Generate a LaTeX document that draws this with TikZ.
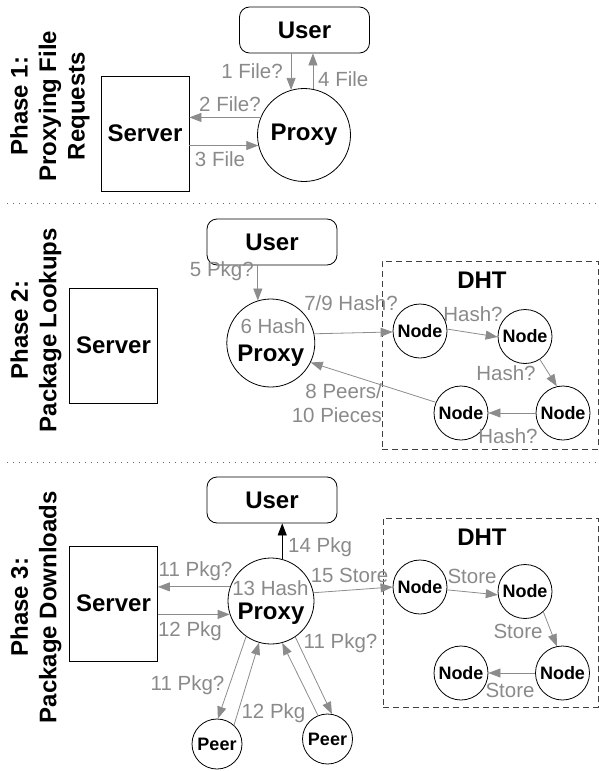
\documentclass[tikz,border=0pt]{standalone}
\usepackage{fontspec}
\setmainfont{Liberation Sans}
\usetikzlibrary{arrows.meta,calc}
\definecolor{lblgray}{HTML}{8A8A8A}
\definecolor{arrgray}{HTML}{8C8C8C}
\tikzset{
  box/.style={draw, line width=0.8pt, inner sep=0pt, font=\fontsize{24}{28}\selectfont\bfseries},
  userbox/.style={box, rounded corners=10pt, minimum width=130pt, minimum height=46pt},
  serverbox/.style={box, minimum width=88pt, minimum height=115pt},
  proxycirc/.style={draw, circle, line width=0.8pt, inner sep=0pt, font=\fontsize{24}{28}\selectfont\bfseries},
  bigtxt/.style={inner sep=0pt, font=\fontsize{24}{28}\selectfont\bfseries},
  dhtnode/.style={draw, circle, line width=0.8pt, inner sep=0pt, minimum size=54pt, font=\fontsize{18}{20}\selectfont\bfseries},
  peernode/.style={draw, circle, line width=0.8pt, inner sep=0pt, minimum size=50pt, font=\fontsize{18}{20}\selectfont\bfseries},
  lbl/.style={text=lblgray, inner sep=0pt, font=\fontsize{20.5}{24.5}\selectfont},
  arr/.style={draw=arrgray, line width=0.8pt, -{Triangle[length=12pt,width=9pt]}},
  blackarr/.style={draw=black, line width=0.8pt, -{Triangle[length=12pt,width=9pt]}},
  dhtbox/.style={draw=black!75, dash pattern=on 6pt off 4pt, line width=0.8pt, inner sep=0pt},
  sepline/.style={draw=black!60, line width=1pt, dash pattern=on 1pt off 5pt},
  phaselbl/.style={rotate=90, align=center, inner sep=0pt, font=\fontsize{24}{28.5}\selectfont\bfseries}
}
\begin{document}
\begin{tikzpicture}[x=1pt,y=-1pt]
\useasboundingbox (0,0) rectangle (599,771);

% separators
\draw[sepline] (7,203) -- (597,203);
\draw[sepline] (7,462) -- (597,462);

% ---------------- Phase 1 ----------------
\node[phaselbl] (ph1) at (50,106) {Phase 1:\\Proxying File\\Requests};
\node[userbox] (user1) at (304.5,30) {User};
\node[serverbox] (server1) at (145,133.5) {Server};
\node[proxycirc, minimum size=93pt] (proxy1) at (304,135) {Proxy};

\draw[arr] (user1.south -| proxy1.106) -- (proxy1.106);
\draw[arr] (proxy1.79) -- (proxy1.79 |- user1.south);
\draw[arr] (proxy1.158) -- (proxy1.158 -| server1.east);
\draw[arr] (server1.east |- proxy1.193) -- (proxy1.193);

\node[lbl, anchor=east] (l1) at (283,71) {1 File?};
\node[lbl, anchor=west] (l4) at (318,79) {4 File};
\node[lbl] (l2) at (230,104) {2 File?};
\node[lbl] (l3) at (220,159.5) {3 File};

% ---------------- Phase 2 ----------------
\node[phaselbl] (ph2) at (36,330) {Phase 2:\\Package Lookups};
\node[dhtbox, minimum width=216pt, minimum height=188pt] (dht2) at (490,355) {};
\node[bigtxt] (dht2l) at (482,280) {DHT};
\node[userbox] (user2) at (272,242) {User};
\node[serverbox] (server2) at (113.5,345.5) {Server};
\node[proxycirc, minimum size=88pt] (proxy2) at (270.8,343) {};
\node[bigtxt] (proxy2t) at (270.8,355.5) {Proxy};
\node[lbl] (hash6) at (273,326) {6 Hash};
\node[dhtnode] (n21) at (420,331) {Node};
\node[dhtnode] (n22) at (525,336.5) {Node};
\node[dhtnode] (n23) at (563,413) {Node};
\node[dhtnode] (n24) at (461,413) {Node};

\draw[arr] (user2.south -| proxy2.107) -- (proxy2.107);
\draw[arr] (proxy2.12) -- (n21.182);
\draw[arr] (n21.4) -- (n22.181);
\draw[arr] (n22.303) -- (n23.103);
\draw[arr] (n23.west) -- (n24.east);
\draw[arr] (n24.157) -- (proxy2.334);

\node[lbl, anchor=east] (l5) at (254,271.5) {5 Pkg?};
\node[lbl] (l79) at (351,303) {7/9 Hash?};
\node[lbl] (lh1) at (473,314.5) {Hash?};
\node[lbl] (lh2) at (506,373) {Hash?};
\node[lbl] (lh3) at (508,436) {Hash?};
\node[lbl, align=right, anchor=north east] (l810) at (382,383) {8 Peers/\\10 Pieces};

% ---------------- Phase 3 ----------------
\node[phaselbl] (ph3) at (36,607) {Phase 3:\\Package Downloads};
\node[dhtbox, minimum width=215pt, minimum height=189pt] (dht3) at (490.5,612.5) {};
\node[bigtxt] (dht3l) at (482,537) {DHT};
\node[userbox] (user3) at (272,500) {User};
\node[serverbox] (server3) at (113.5,603.5) {Server};
\node[proxycirc, minimum size=86pt] (proxy3) at (271,601) {};
\node[bigtxt] (proxy3t) at (271,613.5) {Proxy};
\node[lbl] (hash13) at (270.5,588.5) {13 Hash};
\node[dhtnode] (n31) at (420,587) {Node};
\node[dhtnode] (n32) at (525,591.5) {Node};
\node[dhtnode] (n33) at (562.5,673) {Node};
\node[dhtnode] (n34) at (461,673) {Node};
\node[peernode] (peer1) at (217,744) {Peer};
\node[peernode] (peer2) at (327.5,739) {Peer};

\draw[blackarr] (proxy3.75) -- (proxy3.75 |- user3.south);
\draw[arr] (proxy3.161) -- (proxy3.161 -| server3.east);
\draw[arr] (server3.east |- proxy3.198) -- (proxy3.198);
\draw[arr] (proxy3.11) -- (n31.west);
\draw[arr] (n31.354) -- (n32.187);
\draw[arr] (n32.312) -- (n33.102);
\draw[arr] (n33.west) -- (n34.east);
\draw[arr] (proxy3.235) -- (peer1.88);
\draw[arr] (peer1.48) -- (proxy3.254);
\draw[arr] (peer2.112) -- (proxy3.285);
\draw[arr] (proxy3.304) -- (peer2.80);

\node[lbl, anchor=west] (l14) at (288,547) {14 Pkg};
\node[lbl] (l11s) at (195.5,571.5) {11 Pkg?};
\node[lbl] (l12s) at (190,631) {12 Pkg};
\node[lbl] (l15) at (349.5,575.5) {15 Store};
\node[lbl] (ls1) at (472,576.5) {Store};
\node[lbl] (ls2) at (518,631) {Store};
\node[lbl] (ls3) at (510,690) {Store};
\node[lbl] (l11a) at (187.5,685.5) {11 Pkg?};
\node[lbl] (l12a) at (273.5,713) {12 Pkg};
\node[lbl] (l11b) at (340.5,643.5) {11 Pkg?};
\end{tikzpicture}
\end{document}
